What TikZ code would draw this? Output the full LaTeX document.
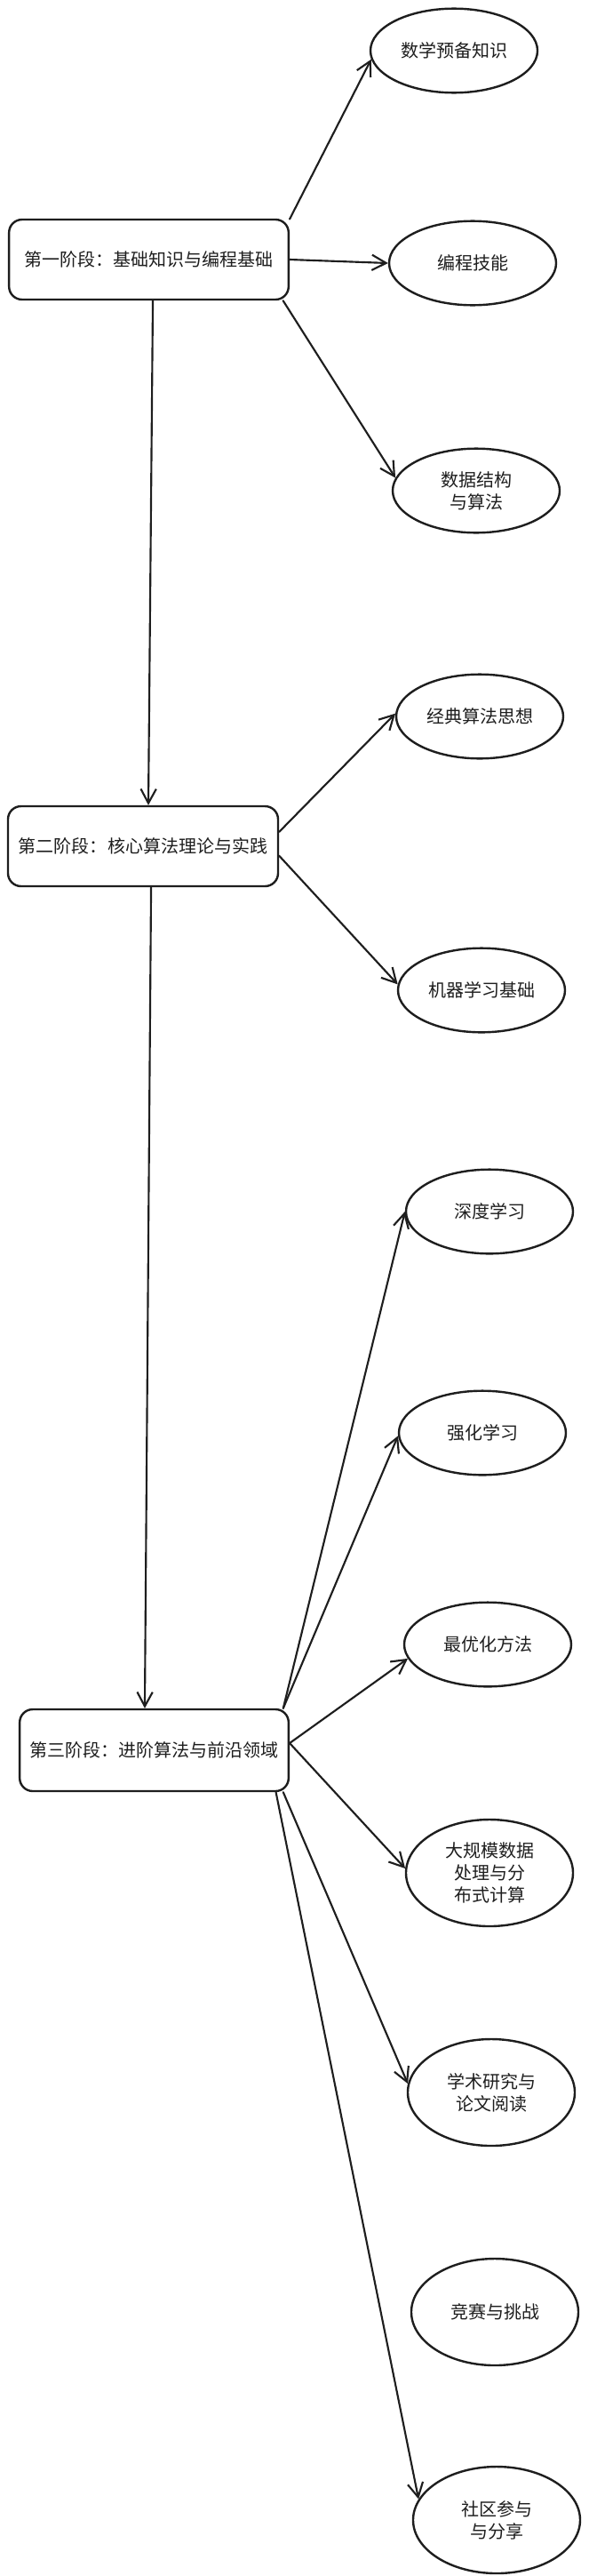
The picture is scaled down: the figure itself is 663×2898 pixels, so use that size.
\documentclass[tikz,border=0pt]{standalone}
\usepackage{fontspec}
\setmainfont{Noto Sans CJK SC}
\usetikzlibrary{arrows.meta,shapes.geometric}
\definecolor{ink}{HTML}{1E1E1E}
\begin{document}
\begin{tikzpicture}[x=0.75pt,y=-0.75pt,
  every node/.style={font=\fontsize{15pt}{18.75pt}\selectfont, text=ink},
  stage/.style={draw=ink, line width=1.8pt, rounded corners=11pt, inner sep=0pt, minimum height=67.5pt},
  topic/.style={draw=ink, line width=1.8pt, ellipse, inner sep=0pt, minimum width=141pt, minimum height=71pt, align=center},
  tall/.style={minimum height=90pt},
  link/.style={draw=ink, line width=1.6pt, line cap=round, -{Straight Barb[length=12pt,width=13pt,line width=1.6pt]}}
]
\fill[white] (0,0) rectangle (663,2898);
\useasboundingbox (0,0) rectangle (663,2898);

\node[stage, minimum width=236pt] (B1) at (167.5,292) {第一阶段：基础知识与编程基础};
\node[topic] (n1) at (511,57) {数学预备知识};
\node[topic] (n2) at (532,296) {编程技能};
\node[topic] (n3) at (536,552) {数据结构\\与算法};

\node[stage, minimum width=228pt] (B2) at (161,952) {第二阶段：核心算法理论与实践};
\node[topic] (m1) at (540,806) {经典算法思想};
\node[topic] (m2) at (542,1114) {机器学习基础};

\node[stage, minimum width=227pt, minimum height=69pt] (B3) at (173.5,1969) {第三阶段：进阶算法与前沿领域};
\node[topic] (p1) at (551,1363) {深度学习};
\node[topic] (p2) at (543,1612) {强化学习};
\node[topic] (p3) at (549,1850) {最优化方法};
\node[topic,tall] (p4) at (551,2107) {大规模数据\\处理与分\\布式计算};
\node[topic,tall] (p5) at (553,2354) {学术研究与\\论文阅读};
\node[topic,tall] (p6) at (557,2601) {竞赛与挑战};
\node[topic,tall] (p7) at (559,2835) {社区参与\\与分享};

\draw[link] (B1.16.8) -- (n1.186.4);
\draw[link] (B1.east) -- (n2.west);
\draw[link] (B1.-17.7) -- (n3.171.6);
\draw[link] ([xshift=3.4pt]B1.south) -- ([xshift=4.5pt]B2.north);

\draw[link] (B2.6.4) -- (m1.178);
\draw[link] (B2.-4.5) -- (m2.176);
\draw[link] ([xshift=6.8pt]B2.south) -- ([xshift=-7.9pt]B3.north);

\draw[link] (B3.18.7) -- (p1.180);
\draw[link] (B3.18.4) -- (p2.182);
\draw[link] (B3.3) -- (p3.190);
\draw[link] (B3.3) -- (p4.177);
\draw[link] (B3.-18.8) -- (p5.174.5);
\draw[link] (B3.-19.3) -- (p7.165);
\end{tikzpicture}
\end{document}
